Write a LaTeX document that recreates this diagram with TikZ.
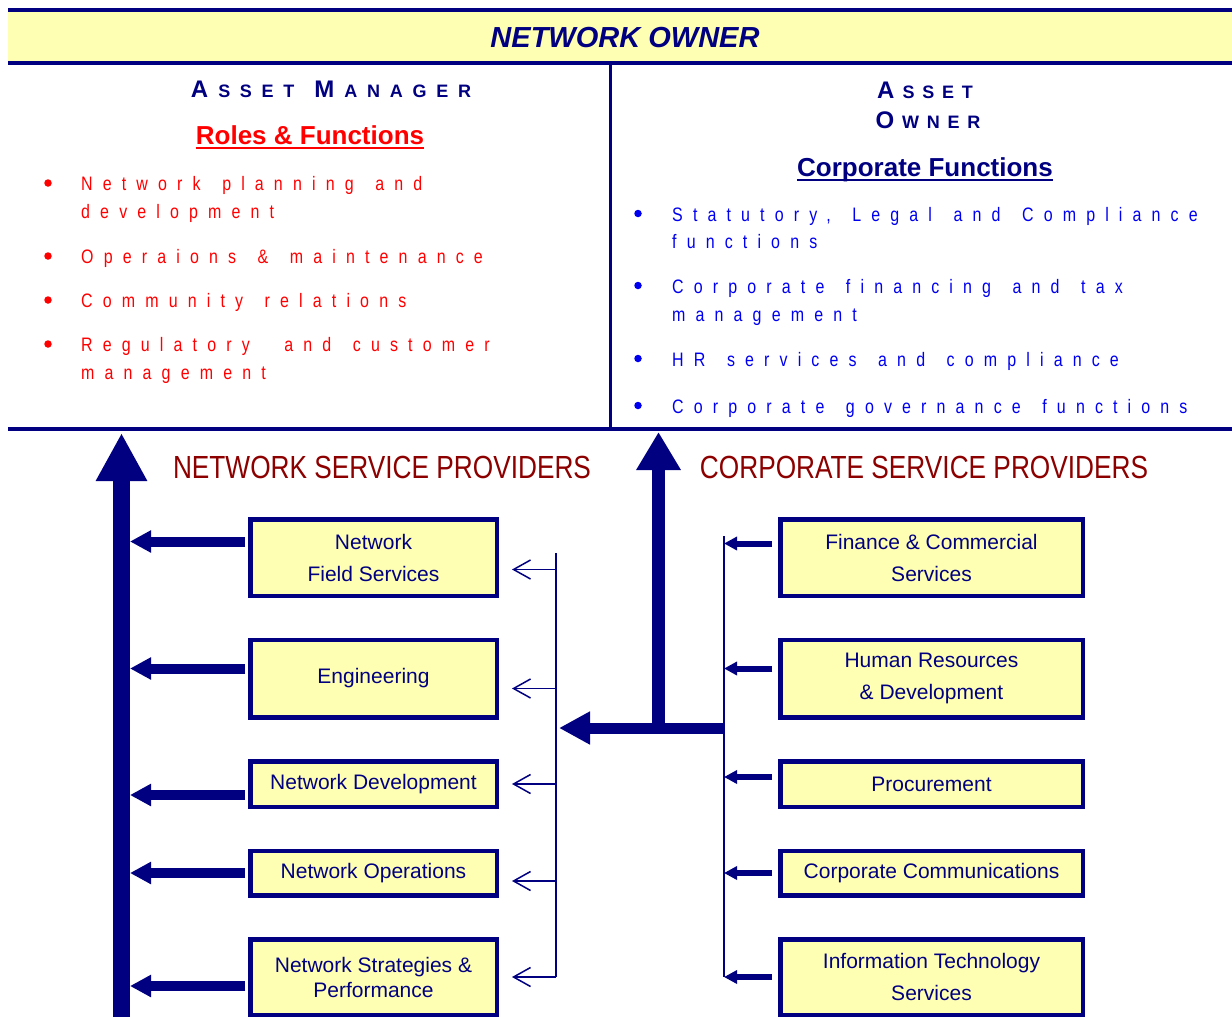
\documentclass[tikz,border=0pt]{standalone}
\usepackage{fontspec}
\setmainfont{Liberation Sans}
\newfontfamily\narrowfont[FakeStretch=0.82]{Liberation Sans}
\newfontfamily\spacedfont[FakeStretch=0.82,LetterSpace=52]{Liberation Sans}
\newfontfamily\capsfont[LetterSpace=43]{Liberation Sans}
\newfontfamily\widecapsfont[LetterSpace=54]{Liberation Sans}
\usepackage{tikz}
\usetikzlibrary{arrows.meta,positioning}

\definecolor{navy}{RGB}{0,0,128}
\definecolor{paleyellow}{RGB}{255,255,179}
\definecolor{darkred}{RGB}{140,0,0}
\definecolor{listred}{RGB}{255,0,0}
\definecolor{listblue}{RGB}{0,0,240}

\newcommand{\fakecaps}[3][8pt]{{\fontsize{24}{24}\selectfont #2}\hspace{#1}{\fontsize{18}{18}\selectfont #3}}
\newlength{\extraspace}
\newcommand{\widespaces}{\setlength{\extraspace}{\fontdimen2\font}\addtolength{\extraspace}{7pt}\spaceskip=\extraspace}

\begin{document}
\begin{tikzpicture}[x=1pt, y=-1pt,
	box/.style={draw=navy, line width=4.5pt, fill=paleyellow, align=center, text=navy, inner sep=0pt, font=\fontsize{21}{32}\selectfont},
	fatarrow/.style={navy, line width=10pt, -{Triangle[length=21pt,width=21pt]}},
	slimarrow/.style={navy, line width=6pt, -{Triangle[length=13pt,width=13pt]}},
	openarrow/.style={navy, line width=1.5pt, -{Straight Barb[length=17pt,width=19pt]}},
	bandline/.style={navy, line width=4pt},
	listitem/.style={anchor=base west, inner sep=0pt, font=\spacedfont\fontsize{19.5}{28}\selectfont},
	bulletdot/.style={circle, inner sep=0pt, minimum size=7.5pt},
	capshead/.style={anchor=base, inner sep=0pt, text=navy, font=\capsfont\bfseries\fontsize{18}{18}\selectfont},
	subhead/.style={anchor=base, inner sep=0pt, font=\bfseries\fontsize{26}{26}\selectfont},
	provhead/.style={anchor=base, inner sep=0pt, text=darkred, font=\narrowfont\fontsize{32}{32}\selectfont}]
	\useasboundingbox (0,0) rectangle (1232,1017);

	% owner band
	\fill[paleyellow] (8,11) rectangle (1232,61);
	\draw[bandline] (8,9.5) -- (1232,9.5);
	\draw[bandline] (8,62.5) -- (1232,62.5);
	\node[anchor=base, inner sep=0pt, text=navy, font=\bfseries\itshape\fontsize{29}{29}\selectfont] (owner) at (625,47) {NETWORK OWNER};
	\draw[navy, line width=3pt] (610,62) -- (610,428);
	\draw[bandline] (8,428.5) -- (1232,428.5);

	% asset manager
	\node[capshead, font=\widecapsfont\bfseries\fontsize{18}{18}\selectfont] (mgr) at (331,97) {\fakecaps[10pt]{A}{SSET}\hspace{20pt}\fakecaps[10pt]{M}{ANAGER}};
	\node[subhead, text=listred] (roles) at (310,144) {Roles \& Functions};
	\draw[listred, line width=2.4pt] ([yshift=-4pt]roles.base west) -- ([yshift=-4pt]roles.base east);
	\foreach \yy/\txt [count=\i] in {190/Network planning and, 218/development, 263/Operaions \& maintenance, 307/Community relations, 351/Regulatory\hspace{13pt} and customer, 379/management}
	\node[listitem, text=listred] (am\i) at (81,\yy) {\widespaces\txt};
	\foreach \yy in {190,263,307,351}
	\node[bulletdot, fill=listred] (amdot\yy) at (48,\yy-7) {};

	% asset owner
	\node[capshead] (own1) at (925,98) {\fakecaps{A}{SSET}};
	\node[capshead] (own2) at (928,128) {\fakecaps{O}{WNER}};
	\node[subhead, text=navy] (corp) at (925,176) {Corporate Functions};
	\draw[navy, line width=2.4pt] ([yshift=-4pt]corp.base west) -- ([yshift=-4pt]corp.base east);
	\foreach \yy/\txt [count=\i] in {221/{Statutory, Legal and Compliance}, 248/functions, 293/Corporate financing and tax, 321/management, 366/HR services and compliance, 413/Corporate governance functions}
	\node[listitem, text=listblue] (ao\i) at (672,\yy) {\widespaces\txt};
	\foreach \yy in {221,293,366,413}
	\node[bulletdot, fill=listblue] (aodot\yy) at (638,\yy-7.5) {};

	% service providers
	\node[provhead] (nethead) at (382,478) {NETWORK SERVICE PROVIDERS};
	\node[provhead] (corphead) at (924,478) {CORPORATE SERVICE PROVIDERS};

	\node[box, minimum width=246.5pt, minimum height=76.5pt] (nfs) at (373.5,557.5) {Network\\Field Services};
	\node[box, minimum width=246.5pt, minimum height=77.5pt, below=39.5pt of nfs] (eng) {Engineering};
	\node[box, minimum width=246.5pt, minimum height=45.5pt, below=39.5pt of eng] (ndev) {Network Development};
	\node[box, minimum width=246.5pt, minimum height=44.5pt, below=39.5pt of ndev] (nops) {Network Operations};
	\node[box, minimum width=246.5pt, minimum height=75.5pt, below=39.5pt of nops, font=\fontsize{21}{25}\selectfont] (nstrat) {Network Strategies \&\\Performance};

	\node[box, minimum width=302.5pt, minimum height=76.5pt, right=279pt of nfs] (fin) {Finance \& Commercial\\Services};
	\node[box, minimum width=302.5pt, minimum height=77.5pt, right=279pt of eng] (hr) {Human Resources\\\& Development};
	\node[box, minimum width=302.5pt, minimum height=45.5pt, right=279pt of ndev] (proc) {Procurement};
	\node[box, minimum width=302.5pt, minimum height=44.5pt, right=279pt of nops] (comm) {Corporate Communications};
	\node[box, minimum width=302.5pt, minimum height=75.5pt, right=279pt of nstrat] (its) {Information Technology\\Services};

	% main spine up to the asset manager
	\coordinate (nspinetop) at (121.5,433);
	\coordinate (nspinefoot) at (121.5,1017);
	\coordinate (nspineedge) at (130,433);
	\draw[navy, line width=17pt, -{Triangle[length=48pt,width=48pt]}] (nspinefoot) -- (nspinetop);
	\foreach \b/\dy in {nfs/16, eng/10, ndev/-11, nops/0, nstrat/-9}{
		\coordinate (s) at ([xshift=-3pt, yshift=\dy pt]\b.west);
		\draw[fatarrow] (s) -- (s -| nspineedge);
	}

	% bracket feeding the network boxes
	\coordinate (nbrtop) at (556,553);
	\coordinate (nbrfoot) at (556,977);
	\draw[navy, line width=1.5pt] (nbrtop) -- (nbrfoot);
	\foreach \b/\dy in {nfs/-12, eng/-10, ndev/0, nops/-8, nstrat/0}{
		\coordinate (t) at ([xshift=13pt, yshift=\dy pt]\b.east);
		\draw[openarrow] (t -| nbrtop) -- (t);
	}

	% bracket collecting the corporate boxes
	\coordinate (cbrtop) at (724,536);
	\coordinate (cbrfoot) at (724,977);
	\draw[navy, line width=2pt] (cbrtop) -- (cbrfoot);
	\foreach \b/\dy in {fin/14, hr/10, proc/7, comm/0, its/0}{
		\coordinate (s) at ([xshift=-6pt, yshift=\dy pt]\b.west);
		\draw[slimarrow] (s) -- (s -| cbrtop);
	}

	% T junction
	\coordinate (tjoin) at (724,728);
	\coordinate (ttip) at (559,728);
	\coordinate (tup) at (658.5,432);
	\draw[navy, line width=11pt, -{Triangle[length=31pt,width=31pt]}] (tjoin) -- (ttip);
	\draw[navy, line width=13pt, -{Triangle[length=38pt,width=42pt]}] (tup |- tjoin) -- (tup);
\end{tikzpicture}
\end{document}
